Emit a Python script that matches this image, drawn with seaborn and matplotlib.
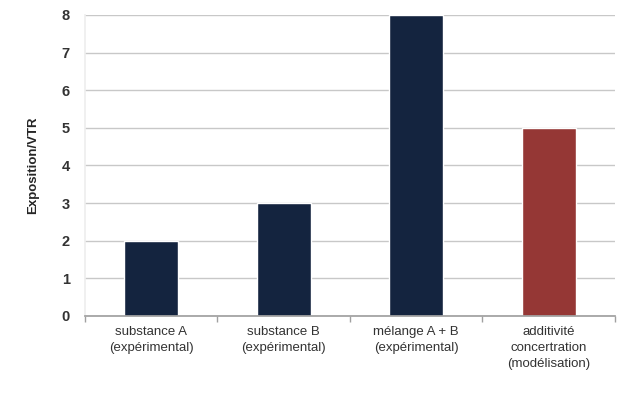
import matplotlib
matplotlib.use("Agg")
import matplotlib.pyplot as plt
import seaborn as sns
import pandas as pd
import numpy as np

categories = ["substance A\n(expérimental)", "substance B\n(expérimental)",
              "mélange A + B\n(expérimental)", "additivité\nconcertration\n(modélisation)"]
values = [2, 3, 8, 5]
colors = ["#14243f", "#14243f", "#14243f", "#953735"]
ylabel = "Exposition/VTR"

sns.set_theme(style="white")
plt.rcParams['font.family'] = ['Liberation Sans', 'DejaVu Sans']

df = pd.DataFrame({"cat": categories, "val": values})
fig = plt.figure(figsize=(6.34, 4.04), dpi=100)
ax = fig.add_axes([0.134, 0.218, 0.836, 0.745])
sns.barplot(data=df, x="cat", y="val", hue="cat", palette=colors, width=0.41,
            legend=False, ax=ax, saturation=1)
ax.set_ylim(0, 8)
ax.set_xlim(-0.5, 3.5)
ax.set_yticks(range(0, 9))
ax.grid(axis="y", color="#c8c8c8", linewidth=1)
ax.set_axisbelow(True)
for s in ["top", "right"]:
    ax.spines[s].set_visible(False)
ax.spines["left"].set_color("#eeeeee")
ax.spines["bottom"].set_color("#a0a0a0")
ax.tick_params(axis="y", length=5, color="#c8c8c8", labelsize=10.5, pad=6)
ax.tick_params(axis="x", which="major", length=0, labelsize=9.5, pad=7)
ax.set_xticks(np.arange(-0.5, 4, 1), minor=True)
ax.tick_params(axis="x", which="minor", length=4, color="#a0a0a0", bottom=True)
for lab in ax.get_yticklabels():
    lab.set_fontweight("bold")
    lab.set_color("#333333")
for lab in ax.get_xticklabels():
    lab.set_linespacing(1.45)
    lab.set_color("#333333")
ax.set_xlabel("")
ax.set_ylabel(ylabel, fontsize=9.5, fontweight="bold", labelpad=16)
fig.savefig("out.png", dpi=100)
